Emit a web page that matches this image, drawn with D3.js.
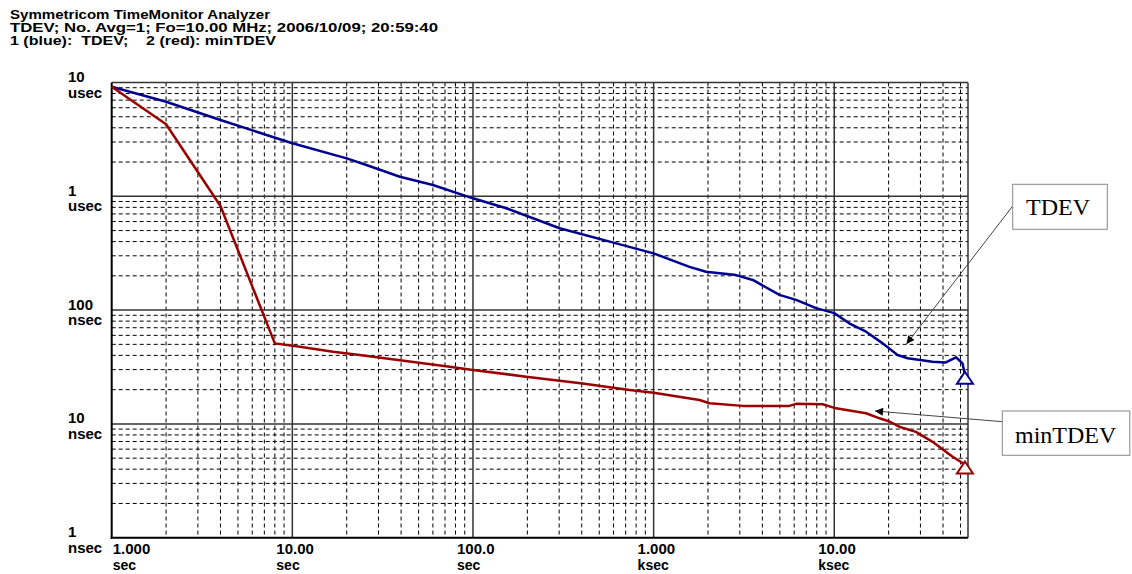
<!DOCTYPE html>
<html><head><meta charset="utf-8">
<script src="https://cdn.jsdelivr.net/npm/d3@7"></script>
<style>body{margin:0;background:#fff}svg{display:block}</style>
</head><body>
<svg id="c" width="1132" height="574"></svg>
<script>
const headerLines = [
  "Symmetricom TimeMonitor Analyzer",
  "TDEV; No. Avg=1; Fo=10.00 MHz; 2006/10/09; 20:59:40",
  "1 (blue):  TDEV;    2 (red): minTDEV"
];
const headerWidths = [260, 428, 266];

// tau in seconds, deviation in nanoseconds
const tdevTau = [1, 2, 4, 7.2, 10, 20, 25.7, 39.4, 60, 100, 153, 302, 621, 1000, 1580, 1950, 2860, 3540, 4970, 6150, 7930, 10000, 12100, 15000, 18550, 22400, 25500, 35000, 41500, 47200, 51300, 52900];
const tdevVal = [9180, 6780, 4680, 3460, 2924, 2156, 1884, 1486, 1258, 960, 785, 524, 386, 315, 240, 217, 203, 184, 136, 123, 104, 94, 76.6, 64.6, 51, 40.3, 37.7, 35.2, 34.7, 38.5, 34, 27];

const minTau = [1, 2, 4, 8, 11, 16.8, 23.6, 74.3, 100, 197, 405, 736, 1000, 1795, 2040, 3110, 5650, 6150, 8630, 10230, 15000, 17800, 20200, 22900, 28300, 35000, 45200, 52900];
const minVal = [9180, 4300, 822, 51, 47.6, 43, 40.3, 31.8, 29.8, 26, 22.7, 19.9, 18.8, 16.2, 15.2, 14.4, 14.4, 15.0, 14.9, 13.7, 12.4, 11.2, 10.5, 9.45, 8.5, 6.96, 5.14, 4.4];

const xTickVals = [1, 10, 100, 1000, 10000];
const xTickNums = ["1.000", "10.00", "100.0", "1.000", "10.00"];
const xTickUnits = ["sec", "sec", "sec", "ksec", "ksec"];
const yTickVals = [10000, 1000, 100, 10, 1];
const yTickNums = ["10", "1", "100", "10", "1"];
const yTickUnits = ["usec", "usec", "nsec", "nsec", "nsec"];

const series = [
  {name: "TDEV", tau: tdevTau, val: tdevVal, color: "#00008f"},
  {name: "minTDEV", tau: minTau, val: minVal, color: "#9a0000"}
];

const L = 111.7, R = 968, T = 82.5, B = 537.7;
const svg = d3.select("#c");
const x = d3.scaleLog().domain([1, 55000]).range([L, R]);
const y = d3.scaleLog().domain([10000, 1]).range([T, B]);

// header
headerLines.forEach((t, i) => {
  svg.append("text").attr("x", 10).attr("y", 18.5 + i * 13.3)
    .attr("font-family", "Liberation Sans, Arial, sans-serif").attr("font-weight", "bold")
    .attr("font-size", 13).attr("fill", "#000").style("white-space", "pre")
    .attr("textLength", headerWidths[i]).attr("lengthAdjust", "spacingAndGlyphs")
    .text(t);
});

// minor grid
const minorX = [], minorY = [];
for (let d = 1; d < 100000; d *= 10) for (let k = 2; k <= 9; k++) { const v = d * k; if (v < 55000) minorX.push(v); }
for (let d = 1; d < 10000; d *= 10) for (let k = 2; k <= 9; k++) minorY.push(d * k);

const g = svg.append("g");
g.selectAll(".mx").data(minorX).join("line")
  .attr("x1", d => x(d)).attr("x2", d => x(d)).attr("y1", T).attr("y2", B)
  .attr("stroke", "#000").attr("stroke-width", 1).attr("stroke-dasharray", "4,3");
g.selectAll(".my").data(minorY).join("line")
  .attr("y1", d => y(d)).attr("y2", d => y(d)).attr("x1", L).attr("x2", R)
  .attr("stroke", "#000").attr("stroke-width", 1).attr("stroke-dasharray", "4,3");
// decade grid
g.selectAll(".dx").data(xTickVals.slice(1)).join("line")
  .attr("x1", d => x(d)).attr("x2", d => x(d)).attr("y1", T).attr("y2", B)
  .attr("stroke", "#333").attr("stroke-width", 1.5);
g.selectAll(".dy").data(yTickVals.slice(1, 4)).join("line")
  .attr("y1", d => y(d)).attr("y2", d => y(d)).attr("x1", L).attr("x2", R)
  .attr("stroke", "#333").attr("stroke-width", 1.5);
// border
g.append("line").attr("x1", L).attr("x2", R).attr("y1", T).attr("y2", T).attr("stroke", "#333").attr("stroke-width", 1.5);
g.append("line").attr("x1", R).attr("x2", R).attr("y1", T).attr("y2", B).attr("stroke", "#333").attr("stroke-width", 1.5);
g.append("line").attr("x1", L).attr("x2", L).attr("y1", T).attr("y2", B + 1).attr("stroke", "#000").attr("stroke-width", 2);
g.append("line").attr("x1", L - 1).attr("x2", R).attr("y1", B).attr("y2", B).attr("stroke", "#000").attr("stroke-width", 2);

// axis labels
const font = "Liberation Sans, Arial, sans-serif";
yTickVals.forEach((v, i) => {
  svg.append("text").attr("x", 68).attr("y", y(v) - 0.5).attr("font-family", font)
    .attr("font-weight", "bold").attr("font-size", 15).text(yTickNums[i]);
  svg.append("text").attr("x", 68).attr("y", y(v) + 15).attr("font-family", font)
    .attr("font-weight", "bold").attr("font-size", 15).text(yTickUnits[i]);
});
xTickVals.forEach((v, i) => {
  const xs = i === 0 ? x(v) + 1 : x(v) - 16;
  svg.append("text").attr("x", xs).attr("y", 554).attr("font-family", font)
    .attr("font-weight", "bold").attr("font-size", 15).text(xTickNums[i]);
  svg.append("text").attr("x", xs).attr("y", 570).attr("font-family", font)
    .attr("font-weight", "bold").attr("font-size", 14).text(xTickUnits[i]);
});

// series
const line = d3.line().x(d => x(d[0])).y(d => y(d[1]));
series.forEach(s => {
  const pts = s.tau.map((t, i) => [t, s.val[i]]);
  svg.append("path").attr("d", line(pts)).attr("fill", "none")
    .attr("stroke", s.color).attr("stroke-width", 2.5).attr("stroke-linejoin", "round");
  const last = pts[pts.length - 1];
  const px = x(last[0]), py = y(last[1]);
  svg.append("path")
    .attr("d", `M${px},${py - 3}L${px + 8},${py + 9}L${px - 8},${py + 9}Z`)
    .attr("fill", "#fff").attr("stroke", s.color).attr("stroke-width", 2);
});

// annotations
const defs = svg.append("defs");
defs.append("marker").attr("id", "ah").attr("viewBox", "0 0 10 10").attr("refX", 10).attr("refY", 5)
  .attr("markerWidth", 10).attr("markerHeight", 8).attr("markerUnits", "userSpaceOnUse").attr("orient", "auto")
  .append("path").attr("d", "M0,0L10,5L0,10Z").attr("fill", "#000");

const annos = [
  {text: "TDEV", box: [1012.7, 184.3, 94.6, 45], tx: 1026, ty: 215, from: [1012.7, 206], to: [906.5, 344]},
  {text: "minTDEV", box: [1002.3, 411, 127.5, 44.3], tx: 1015, ty: 442.5, from: [1002.3, 421.7], to: [875, 411]}
];
annos.forEach(a => {
  svg.append("line").attr("x1", a.from[0]).attr("y1", a.from[1]).attr("x2", a.to[0]).attr("y2", a.to[1])
    .attr("stroke", "#444").attr("stroke-width", 1).attr("marker-end", "url(#ah)");
  svg.append("rect").attr("x", a.box[0]).attr("y", a.box[1]).attr("width", a.box[2]).attr("height", a.box[3])
    .attr("fill", "#fff").attr("stroke", "#888").attr("stroke-width", 1);
  svg.append("text").attr("x", a.tx).attr("y", a.ty).attr("font-family", "Liberation Serif, Times New Roman, serif")
    .attr("font-size", 24).attr("fill", "#000").text(a.text);
});
</script>
</body></html>
